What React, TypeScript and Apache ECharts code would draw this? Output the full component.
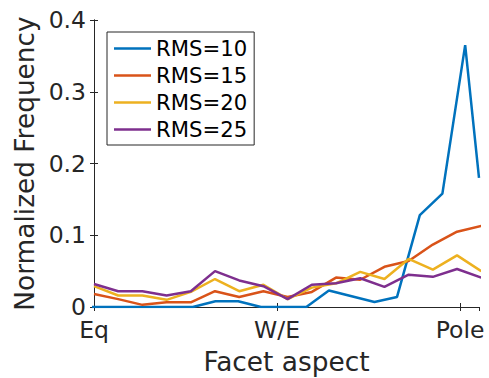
import React, { useEffect, useRef } from "react";
import * as echarts from "echarts";

// Aspect positions (degrees: Eq = 0, W/E = 90, Pole = 180)
const aspectX = [0, 11.9, 23.8, 35.7, 47.6, 59.5, 71.4, 83.3, 95.2, 107.1, 119.0, 130.9, 142.8, 154.7, 166.6, 178.5, 190.4];
const aspectX10 = [-7.3, 3.9, 15.1, 26.3, 37.4, 48.6, 59.7, 70.9, 82.1, 93.2, 104.4, 115.5, 126.7, 137.9, 149.0, 160.2, 171.3, 182.5, 189.3];

const rms10 = [0, 0, 0, 0, 0, 0, 0.008, 0.008, 0, 0, 0, 0.023, 0.015, 0.007, 0.014, 0.128, 0.158, 0.365, 0.18];
const rms15 = [0.018, 0.011, 0.003, 0.0065, 0.0065, 0.022, 0.014, 0.022, 0.014, 0.021, 0.041, 0.038, 0.056, 0.064, 0.087, 0.105, 0.113];
const rms20 = [0.029, 0.016, 0.016, 0.010, 0.021, 0.039, 0.022, 0.031, 0.011, 0.027, 0.033, 0.049, 0.039, 0.067, 0.052, 0.072, 0.050];
const rms25 = [0.032, 0.022, 0.022, 0.016, 0.022, 0.050, 0.037, 0.029, 0.011, 0.031, 0.033, 0.040, 0.028, 0.045, 0.042, 0.053, 0.041];

const seriesNames = ["RMS=10", "RMS=15", "RMS=20", "RMS=25"];
const colors = ["#0072BD", "#D95319", "#EDB120", "#7E2F8E"];
const xTickLabels: Record<number, string> = { 0: "Eq", 90: "W/E", 180: "Pole" };

const FONT = "DejaVu Sans";
const INK = "#262626";

export default function App() {
  const ref = useRef<HTMLDivElement>(null);
  useEffect(() => {
    if (!ref.current) return;
    const chart = echarts.init(ref.current, undefined, { renderer: "svg" });
    const pair = (xs: number[], ys: number[]) => ys.map((y, i) => [xs[i], y]);
    const allData = [pair(aspectX10, rms10), pair(aspectX, rms15), pair(aspectX, rms20), pair(aspectX, rms25)];
    const axisLine = { show: true, lineStyle: { color: INK, width: 1 } };
    const tick = { show: true, inside: true, length: 4, lineStyle: { color: INK, width: 1 } };
    chart.setOption({
      animation: false,
      backgroundColor: "#ffffff",
      textStyle: { fontFamily: FONT },
      grid: { left: 94, right: 10, top: 20, bottom: 71, containLabel: false, outerBoundsMode: "none" },
      legend: {
        show: true,
        orient: "vertical",
        left: 107,
        top: 32,
        padding: [6, 7, 5, 7],
        itemGap: 6,
        itemWidth: 37,
        itemHeight: 2.5,
        icon: "rect",
        backgroundColor: "#ffffff",
        borderColor: INK,
        borderWidth: 1,
        textStyle: { fontFamily: FONT, fontSize: 21.2, color: "#000000" },
        data: seriesNames,
      },
      xAxis: [
        {
          type: "value",
          min: 0,
          max: 189.3,
          interval: 90,
          name: "Facet aspect",
          nameLocation: "middle",
          nameGap: 41,
          nameTextStyle: { fontFamily: FONT, fontSize: 26.4, color: INK },
          axisLine,
          axisTick: tick,
          splitLine: { show: false },
          axisLabel: {
            margin: 11,
            fontFamily: FONT,
            fontSize: 23.5,
            color: INK,
            showMaxLabel: false,
            formatter: (v: number) => xTickLabels[Math.round(v)] ?? "",
          },
        },
        {
          type: "value",
          position: "top",
          min: 0,
          max: 189.3,
          interval: 90,
          axisLine,
          axisTick: tick,
          splitLine: { show: false },
          axisLabel: { show: false },
        },
      ],
      yAxis: [
        {
          type: "value",
          min: 0,
          max: 0.4,
          interval: 0.1,
          name: "Normalized Frequency",
          nameLocation: "middle",
          nameGap: 56,
          nameTextStyle: { fontFamily: FONT, fontSize: 26.4, color: INK },
          axisLine,
          axisTick: tick,
          splitLine: { show: false },
          axisLabel: { margin: 8, fontFamily: FONT, fontSize: 23.5, color: INK },
        },
        {
          type: "value",
          position: "right",
          min: 0,
          max: 0.4,
          interval: 0.1,
          axisLine,
          axisTick: tick,
          splitLine: { show: false },
          axisLabel: { show: false },
        },
      ],
      series: allData.map((d, i) => ({
        name: seriesNames[i],
        type: "line",
        data: d,
        xAxisIndex: 0,
        yAxisIndex: 0,
        symbol: "none",
        showSymbol: false,
        clip: true,
        color: colors[i],
        lineStyle: { color: colors[i], width: 2.5 },
        itemStyle: { color: colors[i] },
      })),
    });
    return () => chart.dispose();
  }, []);
  return (
    <div
      ref={ref}
      style={{ position: "fixed", left: 0, top: 0, width: 489, height: 378, background: "#fff" }}
    />
  );
}
